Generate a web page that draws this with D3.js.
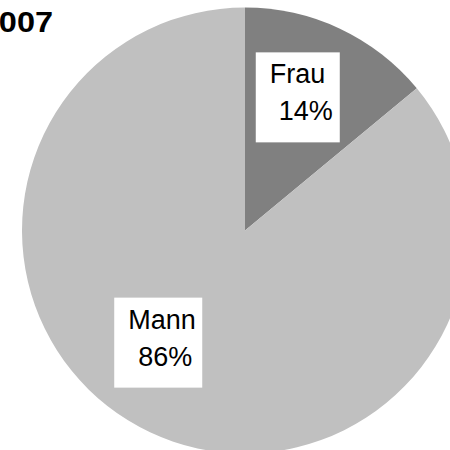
<!DOCTYPE html>
<html>
<head>
<meta charset="utf-8">
<script src="https://cdn.jsdelivr.net/npm/d3@7"></script>
<style>
  html, body { margin: 0; padding: 0; background: #fff; }
  svg { display: block; }
</style>
</head>
<body>
<svg id="chart" width="450" height="450"></svg>
<script>
/// data ///
const categories = ["Frau", "Mann"];
const shares = [14, 86];
const shareLabels = ["14%", "86%"];
const titleText = "2007";

/// constants ///
const width = 450, height = 450;
const cx = 245, cy = 230.5, radius = 223;
const sliceColours = ["#808080", "#c0c0c0"];
const fontFamily = "Liberation Sans, Arial, Helvetica, sans-serif";

const svg = d3.select("#chart");

// pie layout, starting at 12 o'clock and going clockwise
const pie = d3.pie().sort(null).startAngle(0).endAngle(2 * Math.PI);
const arcs = pie(shares);
const arc = d3.arc().innerRadius(0).outerRadius(radius);

const pieG = svg.append("g").attr("transform", `translate(${cx},${cy})`);

pieG.selectAll("path.slice")
  .data(arcs)
  .join("path")
    .attr("class", "slice")
    .attr("d", arc)
    .attr("fill", (d, i) => sliceColours[i]);

// labels: white box with name and percent, placed near a label arc
const labelArc = d3.arc().innerRadius(radius * 0.64).outerRadius(radius * 0.64);
// nudges to match the original label placement
const nudges = [[-8, -4], [-26, -17]];

const labelG = pieG.selectAll("g.label")
  .data(arcs)
  .join("g")
    .attr("class", "label")
    .attr("transform", (d, i) => {
      const [x, y] = labelArc.centroid(d);
      return `translate(${x + nudges[i][0]},${y + nudges[i][1]})`;
    });

labelG.append("rect")
  .attr("x", (d, i) => i === 0 ? -42 : -44)
  .attr("y", -45)
  .attr("width", (d, i) => i === 0 ? 84 : 88)
  .attr("height", 90)
  .attr("fill", "#fff");

labelG.append("text")
  .attr("x", (d, i) => i === 0 ? -28 : -30)
  .attr("y", -14)
  .attr("font-family", fontFamily)
  .attr("font-size", 27)
  .attr("fill", "#000")
  .text((d, i) => categories[i]);

labelG.append("text")
  .attr("x", (d, i) => i === 0 ? -19 : -20)
  .attr("y", 23)
  .attr("font-family", fontFamily)
  .attr("font-size", 27)
  .attr("fill", "#000")
  .text((d, i) => shareLabels[i]);

// title, cut off at the left edge
svg.append("text")
  .attr("transform", "translate(53,31.5) scale(1.12,1)")
  .attr("text-anchor", "end")
  .attr("font-family", fontFamily)
  .attr("font-weight", "bold")
  .attr("font-size", 29)
  .attr("fill", "#000")
  .text(titleText);
</script>
</body>
</html>
